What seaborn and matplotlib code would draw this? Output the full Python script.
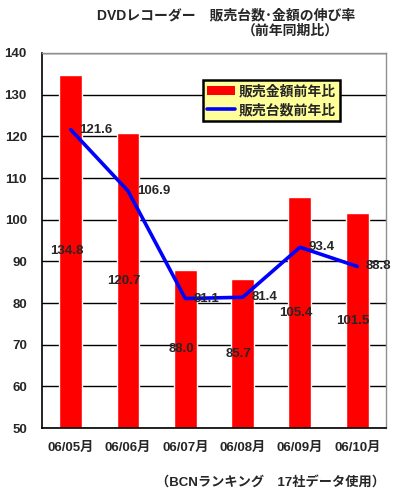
import matplotlib
matplotlib.use('Agg')
import matplotlib.pyplot as plt
from matplotlib.patches import Patch
from matplotlib.lines import Line2D
import seaborn as sns
import pandas as pd

months = ["06/05月", "06/06月", "06/07月", "06/08月", "06/09月", "06/10月"]
amount = [134.8, 120.7, 88.0, 85.7, 105.4, 101.5]   # 販売金額前年比 (bars)
units = [121.6, 106.9, 81.1, 81.4, 93.4, 88.8]      # 販売台数前年比 (line)

sns.set_style("white")
plt.rcParams['font.family'] = ['Liberation Sans', 'Noto Sans CJK JP']
plt.rcParams['font.weight'] = 'bold'

df = pd.DataFrame({"month": months, "amount": amount, "units": units})

fig = plt.figure(figsize=(3.97, 4.95), dpi=100)
ax = fig.add_axes([0.106, 0.135, 0.866, 0.758])

sns.barplot(data=df, x="month", y="amount", color="#FF0000", saturation=1,
            width=0.4, ax=ax, zorder=2)
sns.lineplot(x=list(range(len(units))), y=units, color="#0000FF", linewidth=2.6,
             ax=ax, zorder=3)

ymin, ymax = 50, 140
ax.set_ylim(ymin, ymax)
ax.set_xlim(-0.5, len(months) - 0.5)
ax.set_yticks(range(50, 141, 10))
ax.yaxis.grid(True, color="black", linewidth=1.0)
ax.set_axisbelow(True)
ax.set_xlabel("")
ax.set_ylabel("")

for s in ["left", "bottom"]:
    ax.spines[s].set_color("black")
    ax.spines[s].set_linewidth(1.2)
for s in ["top", "right"]:
    ax.spines[s].set_color("#909090")
    ax.spines[s].set_linewidth(1.0)

ax.tick_params(axis="y", length=0, pad=11, labelsize=9.5)
ax.tick_params(axis="x", length=0, pad=10, labelsize=9.5)
ax.set_xticks([i + 0.5 for i in range(len(months) - 1)], minor=True)
ax.tick_params(axis="x", which="minor", direction="in", length=4, color="black")
for lab in ax.get_xticklabels() + ax.get_yticklabels():
    lab.set_fontweight("bold")

# value labels
for i, v in enumerate(amount):
    ax.text(i - 0.07, (ymin + v) / 2, f"{v:.1f}", ha="center", va="center",
            fontsize=9.5, fontweight="bold", zorder=5)
for i, v in enumerate(units):
    ax.text(i + 0.15, v, f"{v:.1f}", ha="left", va="center",
            fontsize=9.5, fontweight="bold", zorder=5)

handles = [Patch(facecolor="#FF0000", edgecolor="none"),
           Line2D([0], [0], color="#0000FF", linewidth=2.6)]
leg = ax.legend(handles, ["販売金額前年比", "販売台数前年比"],
                loc="upper left", bbox_to_anchor=(0.468, 0.928),
                borderaxespad=0, frameon=True, fancybox=False,
                handlelength=2.0, handleheight=0.6, handletextpad=0.3,
                borderpad=0.3, labelspacing=0.35,
                prop={"size": 10, "weight": "bold"})
leg.get_frame().set_facecolor("#FFFF99")
leg.get_frame().set_edgecolor("black")
leg.get_frame().set_linewidth(1.8)
leg.get_frame().set_alpha(1)
leg.set_zorder(6)

fig.text(226 / 397, 1 - 15 / 495, "DVDレコーダー　販売台数･金額の伸び率",
         ha="center", va="center", fontsize=10, fontweight="bold")
fig.text(290 / 397, 1 - 31 / 495, "（前年同期比）",
         ha="center", va="center", fontsize=10, fontweight="bold")
fig.text(270 / 397, 1 - 482 / 495, "（BCNランキング　17社データ使用）",
         ha="center", va="center", fontsize=9.5, fontweight="bold")

fig.savefig("out.png", dpi=100, facecolor="white")
